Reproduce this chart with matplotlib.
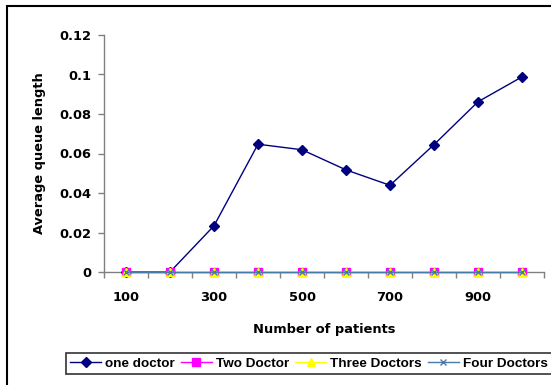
import matplotlib
matplotlib.use("Agg")
import matplotlib.pyplot as plt
from matplotlib.patches import Rectangle
import numpy as np

patients = [100, 200, 300, 400, 500, 600, 700, 800, 900, 1000]
one_doctor = [0.0, 0.0, 0.0234, 0.0647, 0.0619, 0.0517, 0.0439, 0.0645, 0.0862, 0.0988]
two_doctor = [0, 0, 0, 0, 0, 0, 0, 0, 0, 0]
three_doctors = [0, 0, 0, 0, 0, 0, 0, 0, 0, 0]
four_doctors = [0, 0, 0, 0, 0, 0, 0, 0, 0, 0]
yticks = [0, 0.02, 0.04, 0.06, 0.08, 0.1, 0.12]
ytick_labels = ["0", "0.02", "0.04", "0.06", "0.08", "0.1", "0.12"]

plt.rcParams['font.family'] = ['DejaVu Sans']
plt.rcParams['font.weight'] = 'bold'

W, H = 551, 385
fig = plt.figure(figsize=(W / 100, H / 100), dpi=100)
fig.patch.set_facecolor('white')

# outer border (right and bottom edges lie outside the picture)
fig.add_artist(Rectangle((7 / W, 1 - 395 / H), 560 / W, 389 / H, transform=fig.transFigure,
                         fill=False, edgecolor='black', linewidth=1.5, clip_on=False))

ax = fig.add_axes([104 / W, 1 - 272 / H, 440 / W, 237 / H])
x = np.arange(len(patients))

ax.plot(x, one_doctor, color='#000080', marker='D', markersize=5, linewidth=1,
        label='one doctor', clip_on=False, zorder=3)
ax.plot(x, two_doctor, color='#FF00FF', marker='s', markersize=5.5, linewidth=1,
        label='Two Doctor', clip_on=False, zorder=4)
ax.plot(x, three_doctors, color='#FFFF00', marker='^', markersize=5.5, linewidth=1,
        label='Three Doctors', clip_on=False, zorder=5)
ax.plot(x, four_doctors, color='#4A7AA8', marker='x', markersize=4, markeredgewidth=1,
        linewidth=1, label='Four Doctors', clip_on=False, zorder=6)

ax.set_xlim(-0.5, len(patients) - 0.5)
ax.set_ylim(0, 0.12)

# category boundary ticks (no labels)
ax.set_xticks(np.arange(len(patients) + 1) - 0.5)
ax.set_xticklabels([])
ax.tick_params(axis='x', which='major', direction='out', length=4, color='#808080', width=1)
# category labels every other category
ax.set_xticks(x[::2], minor=True)
ax.set_xticklabels([str(p) for p in patients[::2]], minor=True, fontsize=9.4, fontweight='bold')
ax.tick_params(axis='x', which='minor', length=0, pad=13.5)

ax.set_yticks(yticks)
ax.set_yticklabels(ytick_labels, fontsize=9.4, fontweight='bold')
ax.tick_params(axis='y', direction='out', length=4, color='#808080', width=1, pad=5)

for s in ['top', 'right']:
    ax.spines[s].set_visible(False)
for s in ['left', 'bottom']:
    ax.spines[s].set_color('#808080')
    ax.spines[s].set_linewidth(1)

ax.set_xlabel('Number of patients', fontsize=9.4, fontweight='bold', labelpad=14)
ax.set_ylabel('Average queue length', fontsize=9.4, fontweight='bold', labelpad=10)

leg = fig.legend(loc='center left', bbox_to_anchor=(66 / W, 1 - 363.5 / H), ncol=4,
                 prop={'family': ['Liberation Sans', 'DejaVu Sans'], 'weight': 'bold', 'size': 9.7},
                 frameon=True, fancybox=False, edgecolor='black',
                 handlelength=2.3, handletextpad=0.3, columnspacing=0.45, borderpad=0.3,
                 borderaxespad=0)
leg.get_frame().set_linewidth(1.2)

fig.savefig('out.png', dpi=100)
